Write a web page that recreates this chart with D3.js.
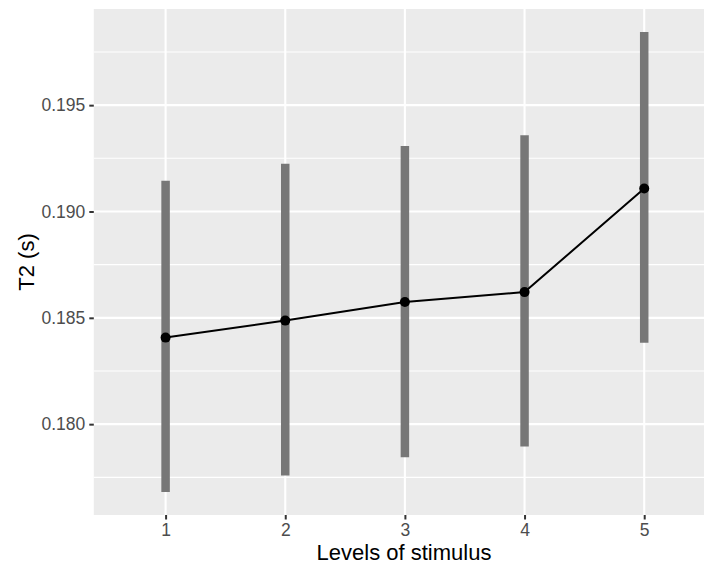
<!DOCTYPE html>
<html>
<head>
<meta charset="utf-8">
<script src="https://cdn.jsdelivr.net/npm/d3@7"></script>
<style>
  html, body { margin: 0; padding: 0; background: #fff; }
  svg { display: block; }
  text { font-family: "Liberation Sans", Arial, Helvetica, sans-serif; }
</style>
</head>
<body>
<svg id="chart" width="704" height="567"></svg>
<script>
// ---- data ----
const levels = [1, 2, 3, 4, 5];
const means  = [0.18407, 0.18487, 0.18574, 0.18621, 0.19108];
const lower  = [0.17681, 0.17759, 0.17844, 0.17895, 0.18383];
const upper  = [0.19145, 0.19225, 0.19308, 0.19358, 0.19844];
const yTicks = [0.180, 0.185, 0.190, 0.195];
const yMinor = [0.1775, 0.1825, 0.1875, 0.1925, 0.1975];
const xLabel = "Levels of stimulus";
const yLabel = "T2 (s)";

const svg = d3.select("#chart");
const panel = { left: 93.8, right: 716, top: 9, bottom: 515 };

const x = d3.scaleLinear().domain([0.4, 5.6]).range([panel.left, panel.right]);
const lo = d3.min(lower), hi = d3.max(upper), pad = (hi - lo) * 0.05;
const y = d3.scaleLinear().domain([lo - pad, hi + pad]).range([panel.bottom, panel.top]);

// panel background
svg.append("rect")
  .attr("x", panel.left).attr("y", panel.top)
  .attr("width", panel.right - panel.left).attr("height", panel.bottom - panel.top)
  .attr("fill", "#EBEBEB");

const g = svg.append("g");

// minor grid
g.selectAll(".ymin").data(yMinor).join("line")
  .attr("x1", panel.left).attr("x2", panel.right)
  .attr("y1", d => y(d)).attr("y2", d => y(d))
  .attr("stroke", "#fff").attr("stroke-width", 1.1);

// major grid
g.selectAll(".ymaj").data(yTicks).join("line")
  .attr("x1", panel.left).attr("x2", panel.right)
  .attr("y1", d => y(d)).attr("y2", d => y(d))
  .attr("stroke", "#fff").attr("stroke-width", 2.1);
g.selectAll(".xmaj").data(levels).join("line")
  .attr("y1", panel.top).attr("y2", panel.bottom)
  .attr("x1", d => x(d)).attr("x2", d => x(d))
  .attr("stroke", "#fff").attr("stroke-width", 2.1);

// error bars
g.selectAll(".err").data(levels).join("line")
  .attr("x1", d => x(d)).attr("x2", d => x(d))
  .attr("y1", (d, i) => y(lower[i])).attr("y2", (d, i) => y(upper[i]))
  .attr("stroke", "#777777").attr("stroke-width", 8.5).attr("stroke-linecap", "butt");

// line
const line = d3.line().x(d => x(d[0])).y(d => y(d[1]));
g.append("path")
  .datum(levels.map((l, i) => [l, means[i]]))
  .attr("d", line).attr("fill", "none")
  .attr("stroke", "#000").attr("stroke-width", 2);

// points
g.selectAll(".pt").data(levels).join("circle")
  .attr("cx", d => x(d)).attr("cy", (d, i) => y(means[i]))
  .attr("r", 5).attr("fill", "#000");

// axes
const yAxis = d3.axisLeft(y).tickValues(yTicks).tickFormat(d3.format(".3f")).tickSize(4.5).tickPadding(4);
const yg = svg.append("g").attr("transform", `translate(${panel.left},0)`).call(yAxis);
yg.select(".domain").remove();
yg.selectAll(".tick line").attr("stroke", "#333").attr("stroke-width", 2);
yg.selectAll(".tick text").attr("fill", "#4D4D4D").style("font-size", "17.5px")
  .style("font-family", "'Liberation Sans', Arial, sans-serif");

const xAxis = d3.axisBottom(x).tickValues(levels).tickFormat(d3.format("d")).tickSize(4.5).tickPadding(4);
const xg = svg.append("g").attr("transform", `translate(0,${panel.bottom})`).call(xAxis);
xg.select(".domain").remove();
xg.selectAll(".tick line").attr("stroke", "#333").attr("stroke-width", 2);
xg.selectAll(".tick text").attr("fill", "#4D4D4D").style("font-size", "17.5px")
  .style("font-family", "'Liberation Sans', Arial, sans-serif");

// titles
svg.append("text")
  .attr("x", 404).attr("y", 560)
  .attr("text-anchor", "middle")
  .attr("fill", "#000").style("font-size", "22px")
  .text(xLabel);

svg.append("text")
  .attr("transform", `translate(34,${(panel.top + panel.bottom) / 2}) rotate(-90)`)
  .attr("text-anchor", "middle")
  .attr("fill", "#000").style("font-size", "22px")
  .text(yLabel);
</script>
</body>
</html>
